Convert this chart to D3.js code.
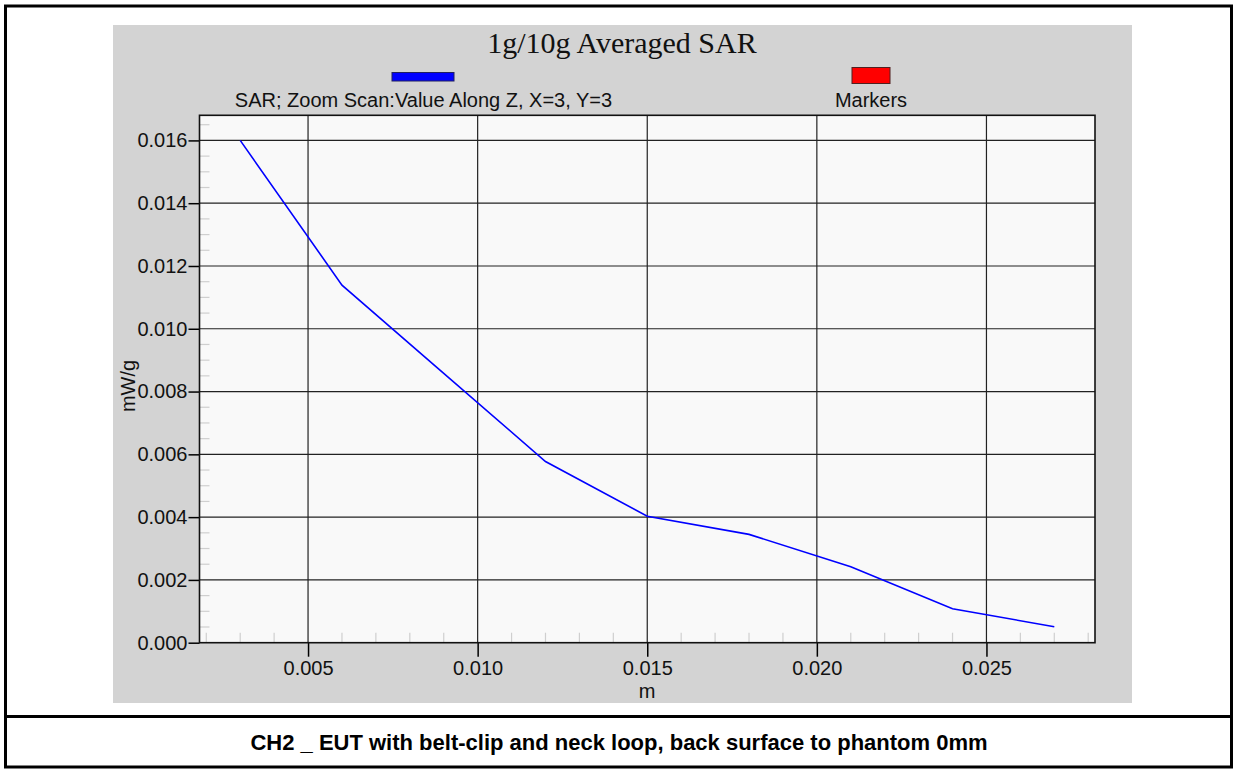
<!DOCTYPE html>
<html>
<head>
<meta charset="utf-8">
<script src="https://cdn.jsdelivr.net/npm/d3@7"></script>
<style>
  html, body { margin: 0; padding: 0; background: #fff; }
  svg { display: block; }
</style>
</head>
<body>
<svg id="chart" width="1238" height="773"></svg>
<script>
// ---- data ----
const zPositions = [0.003, 0.006, 0.009, 0.012, 0.015, 0.018, 0.021, 0.024, 0.027];
const sarValues  = [0.0160, 0.01139, 0.00858, 0.00577, 0.00403, 0.00345, 0.00242, 0.00108, 0.00051];
const xTickValues = [0.005, 0.010, 0.015, 0.020, 0.025];
const yTickValues = [0.000, 0.002, 0.004, 0.006, 0.008, 0.010, 0.012, 0.014, 0.016];
const chartTitle = "1g/10g Averaged SAR";
const seriesName = "SAR; Zoom Scan:Value Along Z, X=3, Y=3";
const markersName = "Markers";
const xAxisTitle = "m";
const yAxisTitle = "mW/g";
const caption = "CH2 _ EUT with belt-clip and neck loop, back surface to phantom 0mm";

const svg = d3.select("#chart");
const SANS = "'Liberation Sans', Arial, sans-serif";
const SERIF = "'Liberation Serif', 'Times New Roman', serif";

// outer frame
svg.append("rect").attr("x", 5.5).attr("y", 6).attr("width", 1226).attr("height", 761)
  .attr("fill", "#fff").attr("stroke", "#000").attr("stroke-width", 3);
svg.append("line").attr("x1", 5.5).attr("x2", 1231.5).attr("y1", 716.5).attr("y2", 716.5)
  .attr("stroke", "#000").attr("stroke-width", 3);

// gray panel
svg.append("rect").attr("x", 113).attr("y", 25).attr("width", 1019).attr("height", 678)
  .attr("fill", "#d3d3d3");

// plot area
const plot = { left: 199.5, right: 1095, top: 115.3, bottom: 642.7 };
const x = d3.scaleLinear().domain([0.0018, 0.0282]).range([plot.left, plot.right]);
const y = d3.scaleLinear().domain([0, 0.0168]).range([plot.bottom, plot.top]);

svg.append("rect").attr("x", plot.left).attr("y", plot.top)
  .attr("width", plot.right - plot.left).attr("height", plot.bottom - plot.top)
  .attr("fill", "#f9f9f9");

// minor ticks
const xMinor = d3.range(2, 29).map(d => d / 1000).filter(v => !xTickValues.some(t => Math.abs(t - v) < 1e-9));
const yMinor = d3.range(1, 34).map(d => d / 2000).filter(v => !yTickValues.some(t => Math.abs(t - v) < 1e-9));
svg.append("g").selectAll("line").data(xMinor).join("line")
  .attr("x1", d => x(d)).attr("x2", d => x(d))
  .attr("y1", plot.bottom).attr("y2", plot.bottom - 10)
  .attr("stroke", "#cfcfcf").attr("stroke-width", 1.2);
svg.append("g").selectAll("line").data(yMinor).join("line")
  .attr("y1", d => y(d)).attr("y2", d => y(d))
  .attr("x1", plot.left).attr("x2", plot.left + 10)
  .attr("stroke", "#cfcfcf").attr("stroke-width", 1.2);

// grid
svg.append("g").selectAll("line").data(xTickValues).join("line")
  .attr("x1", d => x(d)).attr("x2", d => x(d))
  .attr("y1", plot.top).attr("y2", plot.bottom)
  .attr("stroke", "#222").attr("stroke-width", 1.2);
svg.append("g").selectAll("line").data(yTickValues.filter(v => v > 0)).join("line")
  .attr("y1", d => y(d)).attr("y2", d => y(d))
  .attr("x1", plot.left).attr("x2", plot.right)
  .attr("stroke", "#222").attr("stroke-width", 1.2);

// axes
const xAxis = d3.axisBottom(x).tickValues(xTickValues).tickFormat(d3.format(".3f"))
  .tickSize(14).tickSizeOuter(0).tickPadding(4);
const gx = svg.append("g").attr("transform", `translate(0,${plot.bottom})`).call(xAxis);
gx.select(".domain").remove();
gx.selectAll(".tick line").attr("stroke", "#000").attr("stroke-width", 1.5);
gx.selectAll(".tick text").attr("font-family", SANS).attr("font-size", 20).attr("fill", "#111");

const yAxis = d3.axisLeft(y).tickValues(yTickValues).tickFormat(d3.format(".3f"))
  .tickSize(11).tickSizeOuter(0).tickPadding(1);
const gy = svg.append("g").attr("transform", `translate(${plot.left},0)`).call(yAxis);
gy.select(".domain").remove();
gy.selectAll(".tick line").attr("stroke", "#000").attr("stroke-width", 1.5);
gy.selectAll(".tick text").attr("font-family", SANS).attr("font-size", 20).attr("fill", "#111");

// plot border
svg.append("rect").attr("x", plot.left).attr("y", plot.top)
  .attr("width", plot.right - plot.left).attr("height", plot.bottom - plot.top)
  .attr("fill", "none").attr("stroke", "#111").attr("stroke-width", 1.6);

// series line
const line = d3.line().x((d, i) => x(zPositions[i])).y(d => y(d));
svg.append("path").datum(sarValues).attr("d", line)
  .attr("fill", "none").attr("stroke", "#0000ff").attr("stroke-width", 1.6);

// title
svg.append("text").attr("x", 622).attr("y", 53).attr("text-anchor", "middle")
  .attr("font-family", SERIF).attr("font-size", 30).attr("fill", "#111").text(chartTitle);

// legend
svg.append("rect").attr("x", 392).attr("y", 72.5).attr("width", 62).attr("height", 8.5)
  .attr("fill", "#0000ff").attr("stroke", "#202060").attr("stroke-width", 1);
svg.append("text").attr("x", 423.5).attr("y", 106.5).attr("text-anchor", "middle")
  .attr("font-family", SANS).attr("font-size", 20).attr("fill", "#111").text(seriesName);
svg.append("rect").attr("x", 852).attr("y", 67.5).attr("width", 38).attr("height", 16)
  .attr("fill", "#ff0000").attr("stroke", "#502020").attr("stroke-width", 1);
svg.append("text").attr("x", 871).attr("y", 106.5).attr("text-anchor", "middle")
  .attr("font-family", SANS).attr("font-size", 20).attr("fill", "#111").text(markersName);

// axis titles
svg.append("text").attr("x", 647).attr("y", 698).attr("text-anchor", "middle")
  .attr("font-family", SANS).attr("font-size", 20).attr("fill", "#111").text(xAxisTitle);
svg.append("text").attr("transform", "translate(135,386) rotate(-90)").attr("text-anchor", "middle")
  .attr("font-family", SANS).attr("font-size", 20).attr("fill", "#111").text(yAxisTitle);

// caption
svg.append("text").attr("x", 619).attr("y", 750).attr("text-anchor", "middle")
  .attr("font-family", SANS).attr("font-weight", "bold").attr("font-size", 22).attr("fill", "#000")
  .text(caption);
</script>
</body>
</html>
